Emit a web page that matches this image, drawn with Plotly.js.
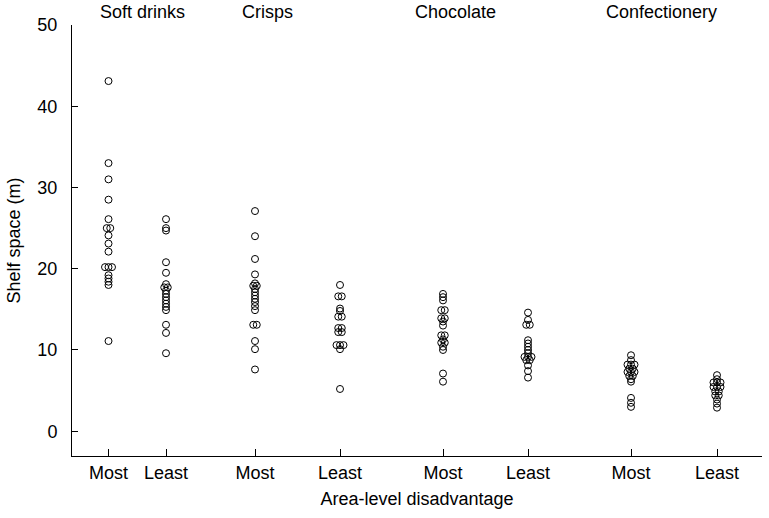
<!DOCTYPE html>
<html>
<head>
<meta charset="utf-8">
<script src="https://cdn.plot.ly/plotly-3.0.1.min.js"></script>
<style>html,body{margin:0;padding:0;background:#fff;}#chart{width:769px;height:518px;}</style>
</head>
<body>
<div id="chart"></div>
<script>
// ---- data (shelf space, metres) ----
const categories = ['Soft drinks', 'Crisps', 'Chocolate', 'Confectionery'];
const levels = ['Most', 'Least'];
const softDrinksMost  = [43.1, 33.0, 31.0, 28.5, 26.1, 25.0, 25.0, 24.1, 23.1, 22.1, 20.2, 20.2, 20.2, 19.2, 18.8, 18.4, 18.0, 11.1];
const softDrinksLeast = [26.1, 25.0, 24.7, 20.8, 19.5, 18.1, 17.7, 17.7, 17.3, 16.9, 16.5, 16.1, 15.7, 15.3, 14.9, 13.1, 12.1, 9.6];
const crispsMost      = [27.1, 24.0, 21.2, 19.3, 18.2, 17.9, 17.9, 17.5, 17.1, 16.7, 16.3, 15.9, 15.4, 14.9, 13.1, 13.1, 11.1, 10.1, 7.6];
const crispsLeast     = [18.0, 16.6, 16.6, 15.1, 14.8, 14.1, 14.1, 12.7, 12.7, 12.2, 12.2, 10.6, 10.6, 10.6, 10.1, 5.2];
const chocolateMost   = [16.9, 16.5, 16.1, 14.9, 14.9, 13.9, 13.9, 13.5, 13.0, 11.8, 11.8, 11.3, 10.9, 10.9, 10.4, 10.0, 7.1, 6.1];
const chocolateLeast  = [14.6, 13.7, 13.1, 13.1, 11.2, 10.8, 10.4, 10.0, 9.6, 9.15, 9.15, 9.15, 8.75, 8.75, 8.1, 7.4, 6.6];
const confectMost     = [9.35, 8.75, 8.2, 8.2, 8.2, 7.7, 7.7, 7.3, 7.3, 7.3, 6.8, 6.8, 6.4, 6.1, 4.1, 3.5, 3.0];
const confectLeast    = [6.9, 6.4, 6.0, 6.0, 6.0, 5.45, 5.45, 5.45, 4.9, 4.9, 4.4, 4.4, 3.9, 3.4, 2.9];
const yTicks = [0, 10, 20, 30, 40, 50];

// ---- layout helpers (positions, not data) ----
const series = [softDrinksMost, softDrinksLeast, crispsMost, crispsLeast,
                chocolateMost, chocolateLeast, confectMost, confectLeast];
const slotPos = [36.5, 94, 183, 268, 371, 456, 559, 645];   // x-axis units (== px)
const groupLabelPos = [70, 195, 383, 589];
const tieStep = 3.5;
const FONT = 'Liberation Sans, Arial, sans-serif';
const FS = 18;

const traces = series.map((vals, i) => {
  const counts = {};
  vals.forEach(v => { counts[v] = (counts[v] || 0) + 1; });
  const seen = {};
  const xs = vals.map(v => {
    const n = counts[v];
    const k = seen[v] = (seen[v] === undefined ? 0 : seen[v] + 1);
    return slotPos[i] + (k - (n - 1) / 2) * tieStep;
  });
  return {
    type: 'scatter', mode: 'markers', x: xs, y: vals,
    name: categories[Math.floor(i / 2)] + ' - ' + levels[i % 2],
    marker: {symbol: 'circle-open', size: 7, color: '#000', line: {width: 1, color: '#000'}},
    hoverinfo: 'y', showlegend: false
  };
});

const annotations = categories.map((c, j) => ({
  text: c, x: groupLabelPos[j], xref: 'x', y: 1.03, yref: 'paper',
  xanchor: 'center', yanchor: 'middle', showarrow: false,
  font: {family: FONT, size: FS, color: '#000'}
}));

const layout = {
  width: 769, height: 518,
  margin: {l: 72, r: 7, t: 25, b: 62},
  paper_bgcolor: '#fff', plot_bgcolor: '#fff',
  font: {family: FONT, size: FS, color: '#000'},
  showlegend: false,
  xaxis: {
    range: [0, 690], showgrid: false, zeroline: false,
    showline: true, linecolor: '#000', linewidth: 1,
    ticks: 'inside', ticklen: 7, tickwidth: 1, tickcolor: '#000',
    tickvals: slotPos, ticktext: slotPos.map((_, i) => levels[i % 2]),
    tickfont: {family: FONT, size: FS, color: '#000'},
    title: {text: 'Area-level disadvantage', font: {family: FONT, size: FS, color: '#000'}, standoff: 10},
    automargin: false, fixedrange: true
  },
  yaxis: {
    range: [-3.05, 50], showgrid: false, zeroline: false,
    showline: true, linecolor: '#000', linewidth: 1,
    ticks: 'inside', ticklen: 6, tickwidth: 1, tickcolor: '#000',
    tickvals: yTicks, ticktext: yTicks.map(String),
    ticklabelstandoff: 10,
    tickfont: {family: FONT, size: FS, color: '#000'},
    title: {text: 'Shelf space (m)', font: {family: FONT, size: FS, color: '#000'}, standoff: 12},
    automargin: false, fixedrange: true
  },
  annotations: annotations
};

Plotly.newPlot('chart', traces, layout, {displayModeBar: false, staticPlot: true});
</script>
</body>
</html>
